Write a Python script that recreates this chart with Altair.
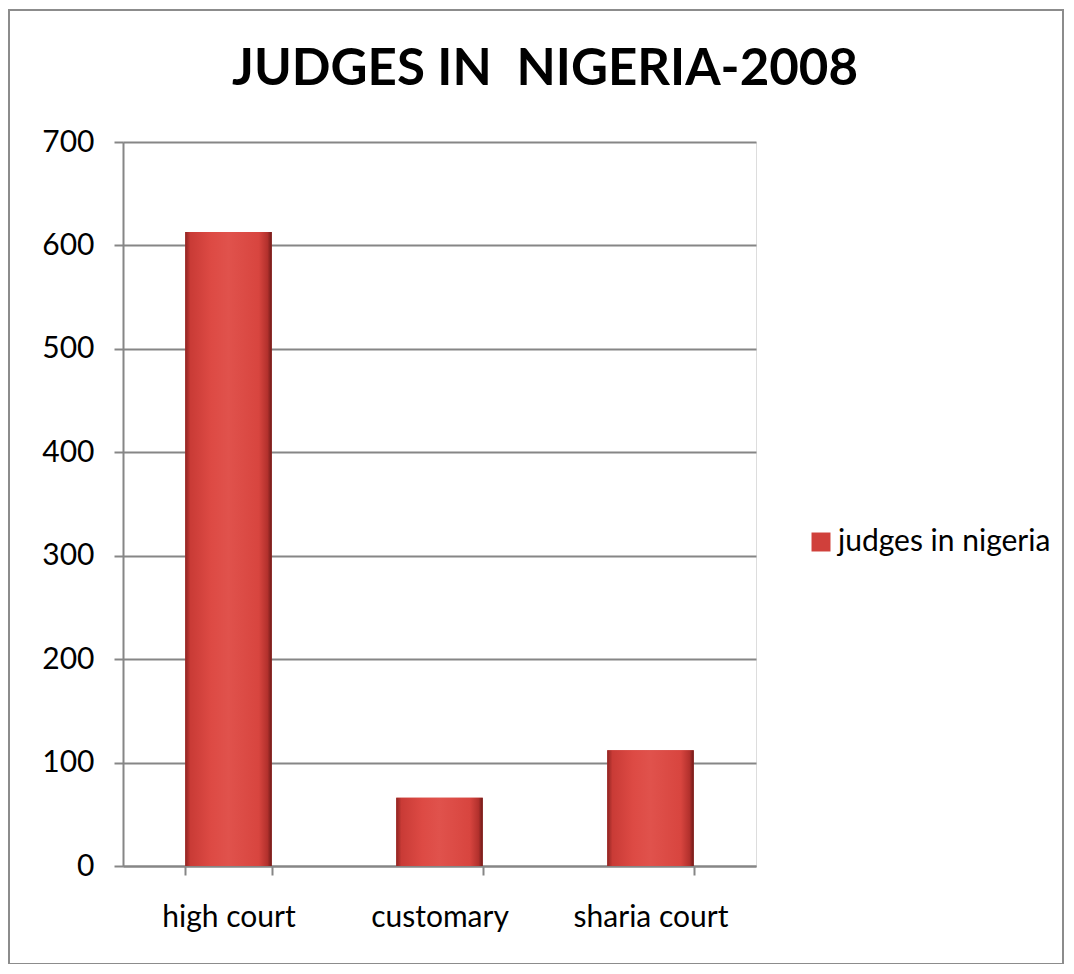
import altair as alt
import pandas as pd

categories = ["high court", "customary", "sharia court"]
values = [613, 66, 112]
series_name = "judges in nigeria"
title_text = "JUDGES IN \u00a0NIGERIA-2008"
y_ticks = [0, 100, 200, 300, 400, 500, 600, 700]

df = pd.DataFrame({"court": categories, "judges": values, "series": [series_name] * 3})

FONT = "Lato"
W, H = 633, 724

x_enc = alt.X(
    "court:N",
    sort=categories,
    title=None,
    scale=alt.Scale(paddingInner=0.59, paddingOuter=0.295),
    axis=alt.Axis(
        labelAngle=0, labelFontSize=30, labelFont=FONT, labelColor="#000000",
        labelPadding=27, tickBand="extent", tickSize=9, tickWidth=2,
        tickColor="#868686", domainColor="#868686", domainWidth=2, grid=False,
    ),
)
y_enc = alt.Y(
    "judges:Q",
    title=None,
    scale=alt.Scale(domain=[0, 700], nice=False),
    axis=alt.Axis(
        values=y_ticks, labelFontSize=30, labelFont=FONT, labelColor="#000000",
        labelPadding=20, tickSize=9, tickWidth=2, tickColor="#868686",
        domainColor="#868686", domainWidth=2, gridColor="#868686", gridWidth=2,
    ),
)

legend_bars = alt.Chart(df).mark_bar().encode(
    x=x_enc,
    y=y_enc,
    color=alt.Color(
        "series:N",
        scale=alt.Scale(range=["#D0403B"]),
        legend=alt.Legend(
            title=None, orient="none", legendX=683, legendY=385,
            symbolType="square", symbolSize=360, symbolStrokeWidth=0,
            labelFontSize=30, labelFont=FONT, labelColor="#000000", labelOffset=2,
            labelLimit=500,
        ),
    ),
)

gradient = alt.Gradient(
    gradient="linear",
    stops=[
        alt.GradientStop(color="#8E2422", offset=0),
        alt.GradientStop(color="#C93B36", offset=0.06),
        alt.GradientStop(color="#DD4A44", offset=0.3),
        alt.GradientStop(color="#E0524C", offset=0.5),
        alt.GradientStop(color="#D8453F", offset=0.85),
        alt.GradientStop(color="#B3312D", offset=0.95),
        alt.GradientStop(color="#6E1A18", offset=1),
    ],
    x1=0, x2=1, y1=0, y2=0,
)

shade_bars = alt.Chart(df).mark_bar(color=gradient).encode(x=x_enc, y=y_enc)

title_df = pd.DataFrame({"t": [title_text]})
title = alt.Chart(title_df).mark_text(
    font=FONT, fontSize=51, fontWeight="bold", color="#000000",
    align="center", baseline="alphabetic",
).encode(text="t:N", x=alt.value(422), y=alt.value(-57))

border = alt.Chart(title_df).mark_rect(
    fill=None, stroke="#8C8C8C", strokeWidth=2
).encode(
    x=alt.value(-114), x2=alt.value(940), y=alt.value(-132), y2=alt.value(822)
)

chart = alt.layer(legend_bars, shade_bars, title, border).properties(
    width=W,
    height=H,
    autosize=alt.AutoSizeParams(type="none"),
    padding={"left": 115, "top": 134, "right": 308, "bottom": 98},
).configure_view(stroke=None).configure(background="white")

chart.save("out.html", embed_options={"renderer": "svg", "actions": False})
